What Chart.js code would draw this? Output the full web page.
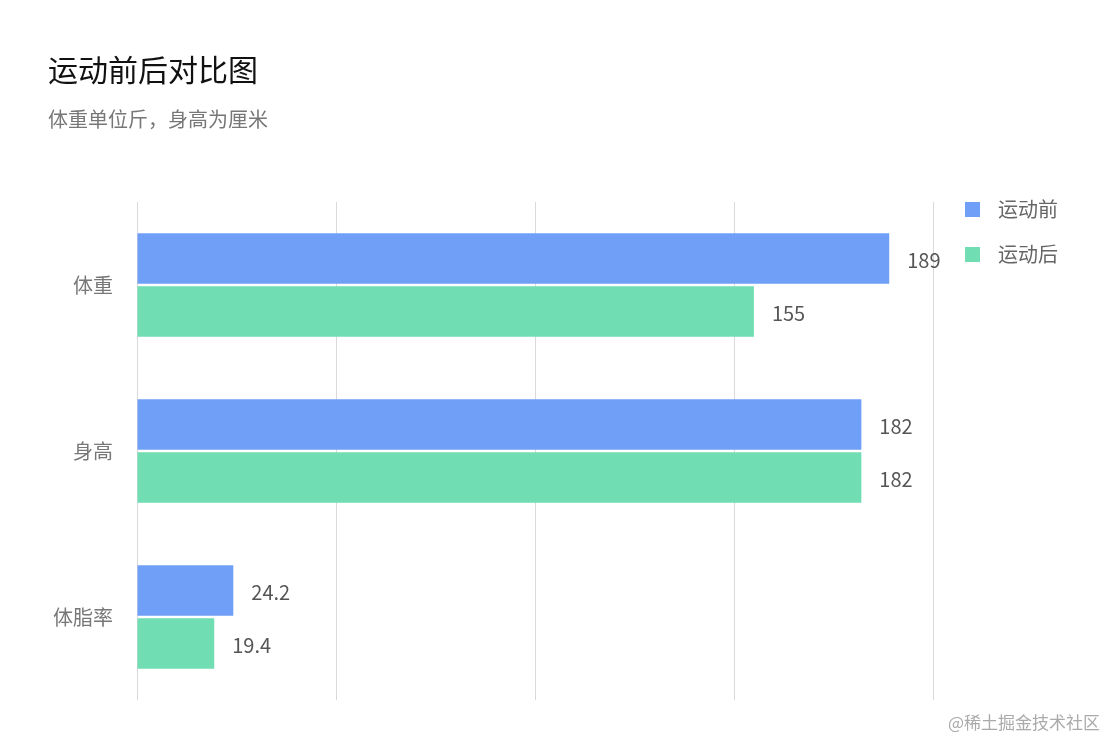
<!DOCTYPE html>
<html><head><meta charset="utf-8">
<script src="https://cdn.jsdelivr.net/npm/chart.js@4"></script>
<style>
body{margin:0;background:#fff;font-family:"Noto Sans CJK SC","Noto Sans",sans-serif;}
#wrap{position:relative;width:1120px;height:752px;}
#title{position:absolute;left:48px;top:46px;font-size:30px;color:#111;}
#sub{position:absolute;left:48px;top:104px;font-size:20px;color:#777;}
#legend{position:absolute;left:965px;top:194px;font-size:20px;color:#666;}
#legend div{height:45px;display:flex;align-items:flex-start;}
#legend span{display:inline-block;width:15px;height:15px;margin:8px 18px 0 0;}
#mark{position:absolute;right:20px;bottom:18px;font-size:17px;color:#aaa;}
canvas{position:absolute;left:0;top:0;}
</style></head><body>
<div id="wrap">
<canvas id="c" width="1120" height="752"></canvas>
<div id="title">运动前后对比图</div>
<div id="sub">体重单位斤，身高为厘米</div>
<div id="legend"><div><span style="background:#709ff7"></span>运动前</div><div><span style="background:#70ddb3"></span>运动后</div></div>
<div id="mark">@稀土掘金技术社区</div>
</div>
<script>
const categories = ['体重', '身高', '体脂率'];
const before = [189, 182, 24.2];
const after = [155, 182, 19.4];
const seriesNames = ['运动前', '运动后'];

const valueLabels = {
    id: 'valueLabels',
    afterDatasetsDraw(chart) {
        const ctx = chart.ctx;
        ctx.save();
        ctx.font = '20px "Noto Sans CJK SC", sans-serif';
        ctx.fillStyle = '#555';
        ctx.textBaseline = 'middle';
        chart.data.datasets.forEach((ds, i) => {
            chart.getDatasetMeta(i).data.forEach((bar, j) => {
                ctx.fillText(ds.data[j], bar.x + 18, bar.y + 2);
            });
        });
        ctx.restore();
    }
};

new Chart(document.getElementById('c'), {
    type: 'bar',
    data: {
        labels: categories,
        datasets: [
            { label: seriesNames[0], data: before, backgroundColor: '#709ff7' },
            { label: seriesNames[1], data: after, backgroundColor: '#70ddb3' }
        ]
    },
    options: {
        indexAxis: 'y',
        responsive: false,
        animation: false,
        layout: { padding: { left: 0, right: 187, top: 202, bottom: 52 } },
        datasets: { bar: { categoryPercentage: 0.64, barPercentage: 0.95 } },
        plugins: { legend: { display: false }, tooltip: { enabled: false } },
        scales: {
            x: {
                min: 0, max: 200,
                ticks: { display: false, stepSize: 50 },
                grid: { color: '#d9d9d9', drawTicks: false },
                border: { display: false }
            },
            y: {
                afterFit: s => { s.width = 137; },
                grid: { display: false },
                border: { display: false },
                ticks: { color: '#777', font: { size: 20, family: '"Noto Sans CJK SC"' }, padding: 16 }
            }
        }
    },
    plugins: [valueLabels]
});
</script>
</body></html>
